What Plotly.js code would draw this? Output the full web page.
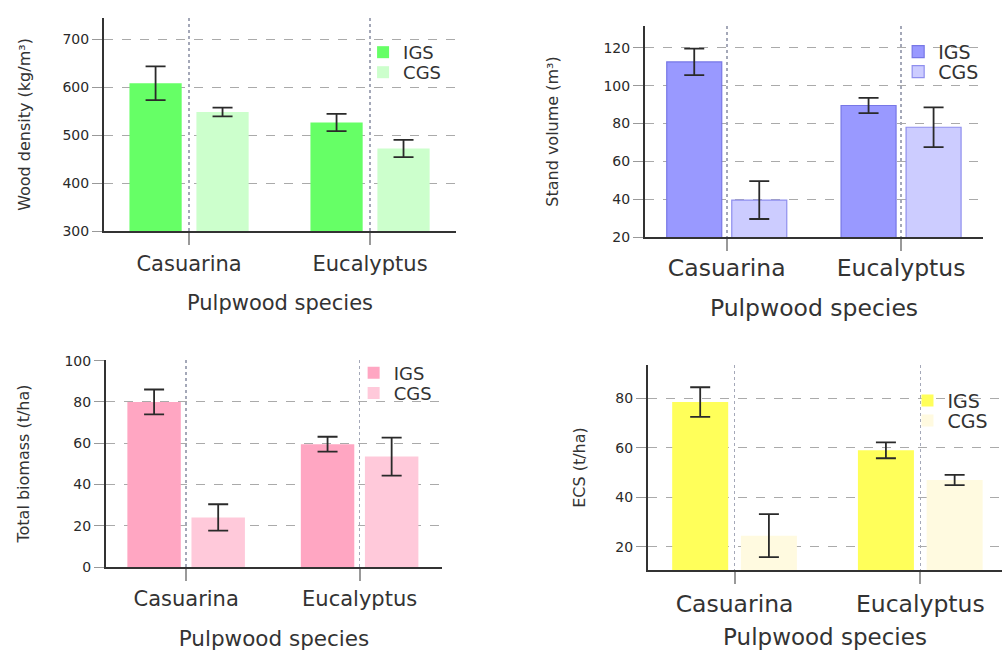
<!DOCTYPE html>
<html>
<head>
<meta charset="utf-8">
<script src="https://cdn.plot.ly/plotly-3.0.1.min.js"></script>
<style>
  html, body { margin: 0; padding: 0; background: #ffffff; }
  body { width: 1002px; height: 650px; position: relative; overflow: hidden; }
  .panel { position: absolute; }
</style>
</head>
<body>
<div id="p1" class="panel" style="left:0px;top:0px;width:480px;height:325px;"></div>
<div id="p2" class="panel" style="left:520px;top:0px;width:482px;height:325px;"></div>
<div id="p3" class="panel" style="left:0px;top:330px;width:480px;height:330px;"></div>
<div id="p4" class="panel" style="left:520px;top:340px;width:482px;height:320px;"></div>
<script>
// ---- data ----
const categories = ['Casuarina', 'Eucalyptus'];
const seriesNames = ['IGS', 'CGS'];
const xTitle = 'Pulpwood species';

const densityIGS = [608, 526];
const densityIGSErr = [35, 18];
const densityCGS = [548, 472];
const densityCGSErr = [9, 18];

const volumeIGS = [112.5, 89.5];
const volumeIGSErr = [7, 4];
const volumeCGS = [39.5, 78];
const volumeCGSErr = [10, 10.5];

const biomassIGS = [80, 59.5];
const biomassIGSErr = [6, 3.6];
const biomassCGS = [24, 53.5];
const biomassCGSErr = [6.4, 9.2];

const ecsIGS = [78.5, 59];
const ecsIGSErr = [6, 3.2];
const ecsCGS = [24.5, 47];
const ecsCGSErr = [8.7, 2.1];

// ---- drawing ----
const FONT = 'DejaVu Sans, Arial, sans-serif';

function barTrace(name, y, err, fill, line, legendId) {
  return {
    type: 'bar', name: name, x: categories, y: y, legend: legendId,
    marker: { color: fill, line: { color: line || fill, width: line ? 1.2 : 0 } },
    error_y: { type: 'data', array: err, visible: true, color: '#2a2a2a', thickness: 1.8, width: 10 },
    hoverinfo: 'skip'
  };
}

function legendBox(x, y, size) {
  return {
    x: x, y: y, xanchor: 'left', yanchor: 'top',
    bgcolor: 'rgba(0,0,0,0)', borderwidth: 0,
    font: { family: FONT, size: size, color: '#333333' },
    itemclick: false, itemdoubleclick: false
  };
}

function makePanel(id, cfg) {
  const data = [
    barTrace(seriesNames[0], cfg.igs, cfg.igsErr, cfg.c1, cfg.l1, 'legend'),
    barTrace(seriesNames[1], cfg.cgs, cfg.cgsErr, cfg.c2, cfg.l2, 'legend2')
  ];
  const layout = {
    width: cfg.w, height: cfg.h,
    margin: cfg.margin,
    paper_bgcolor: 'rgba(0,0,0,0)', plot_bgcolor: 'rgba(0,0,0,0)',
    barmode: 'group', bargap: cfg.bargap, bargroupgap: cfg.bgg,
    font: { family: FONT, color: '#333333' },
    showlegend: true,
    legend: legendBox(cfg.legX, cfg.legY1, cfg.legSize),
    legend2: legendBox(cfg.legX, cfg.legY2, cfg.legSize),
    xaxis: {
      type: 'category', range: cfg.xr, fixedrange: true,
      showline: true, linecolor: '#333333', linewidth: 2,
      ticks: 'outside', ticklen: 12, tickwidth: 2, tickcolor: '#999999',
      showgrid: true, gridcolor: '#a4a8b8', gridwidth: 1.5, griddash: 'dot',
      tickfont: { family: FONT, size: cfg.xTickSize, color: '#333333' },
      ticklabelstandoff: cfg.xStand,
      title: { text: xTitle, font: { family: FONT, size: cfg.xTitleSize, color: '#333333' }, standoff: cfg.xTitleStand },
      automargin: false
    },
    yaxis: {
      range: cfg.yr, tick0: cfg.tick0, dtick: cfg.dtick, fixedrange: true,
      showline: true, linecolor: '#333333', linewidth: 2,
      ticks: 'outside', ticklen: 10, tickwidth: 1, tickcolor: '#999999',
      showgrid: true, gridcolor: '#aaaaaa', gridwidth: 1, griddash: 'dash',
      zeroline: false,
      tickfont: { family: FONT, size: 14, color: '#2a2a2a' },
      title: { text: cfg.yTitle, font: { family: FONT, size: 16, color: '#333333' }, standoff: cfg.yTitleStand },
      automargin: false
    }
  };
  Plotly.newPlot(id, data, layout, { staticPlot: true, displayModeBar: false });
}

makePanel('p1', {
  w: 480, h: 325, margin: { l: 104, r: 24, t: 18, b: 94, pad: 0 },
  igs: densityIGS, igsErr: densityIGSErr, cgs: densityCGS, cgsErr: densityCGSErr,
  c1: '#66ff66', c2: '#ccffcc',
  bargap: 0.26, bgg: 0.22,
  xr: [-0.47, 1.475], yr: [300, 744], tick0: 300, dtick: 100,
  yTitle: 'Wood density (kg/m³)', yTitleStand: 28,
  xTickSize: 21, xTitleSize: 21, xStand: 1, xTitleStand: 20,
  legX: 0.736, legY1: 0.925, legY2: 0.831, legSize: 18
});

makePanel('p2', {
  w: 482, h: 325, margin: { l: 125, r: 19, t: 26, b: 88, pad: 0 },
  igs: volumeIGS, igsErr: volumeIGSErr, cgs: volumeCGS, cgsErr: volumeCGSErr,
  c1: '#9999ff', l1: '#7777e6', c2: '#ccccff', l2: '#8f8fee',
  bargap: 0.254, bgg: 0.154,
  xr: [-0.469, 1.47], yr: [20, 131.5], tick0: 20, dtick: 20,
  yTitle: 'Stand volume (m³)', yTitleStand: 41,
  xTickSize: 23.5, xTitleSize: 23.5, xStand: -3, xTitleStand: 18,
  legX: 0.749, legY1: 0.968, legY2: 0.873, legSize: 19
});

makePanel('p3', {
  w: 480, h: 330, margin: { l: 106, r: 38, t: 30, b: 93, pad: 0 },
  igs: biomassIGS, igsErr: biomassIGSErr, cgs: biomassCGS, cgsErr: biomassCGSErr,
  c1: '#ffa6c2', c2: '#ffc9da',
  bargap: 0.261, bgg: 0.166,
  xr: [-0.462, 1.475], yr: [0, 100.3], tick0: 0, dtick: 20,
  yTitle: 'Total biomass (t/ha)', yTitleStand: 31,
  xTickSize: 21, xTitleSize: 21.5, xStand: 0, xTitleStand: 21,
  legX: 0.737, legY1: 1.026, legY2: 0.929, legSize: 18
});

makePanel('p4', {
  w: 482, h: 320, margin: { l: 128, r: 0, t: 25, b: 90, pad: 0 },
  igs: ecsIGS, igsErr: ecsIGSErr, cgs: ecsCGS, cgsErr: ecsCGSErr,
  c1: '#ffff5a', c2: '#fffae0',
  bargap: 0.26, bgg: 0.185,
  xr: [-0.466, 1.44], yr: [10.6, 93.5], tick0: 0, dtick: 20,
  yTitle: 'ECS (t/ha)', yTitleStand: 26,
  xTickSize: 23.5, xTitleSize: 23, xStand: 0, xTitleStand: 12,
  legX: 0.733, legY1: 0.919, legY2: 0.821, legSize: 19
});
</script>
</body>
</html>
